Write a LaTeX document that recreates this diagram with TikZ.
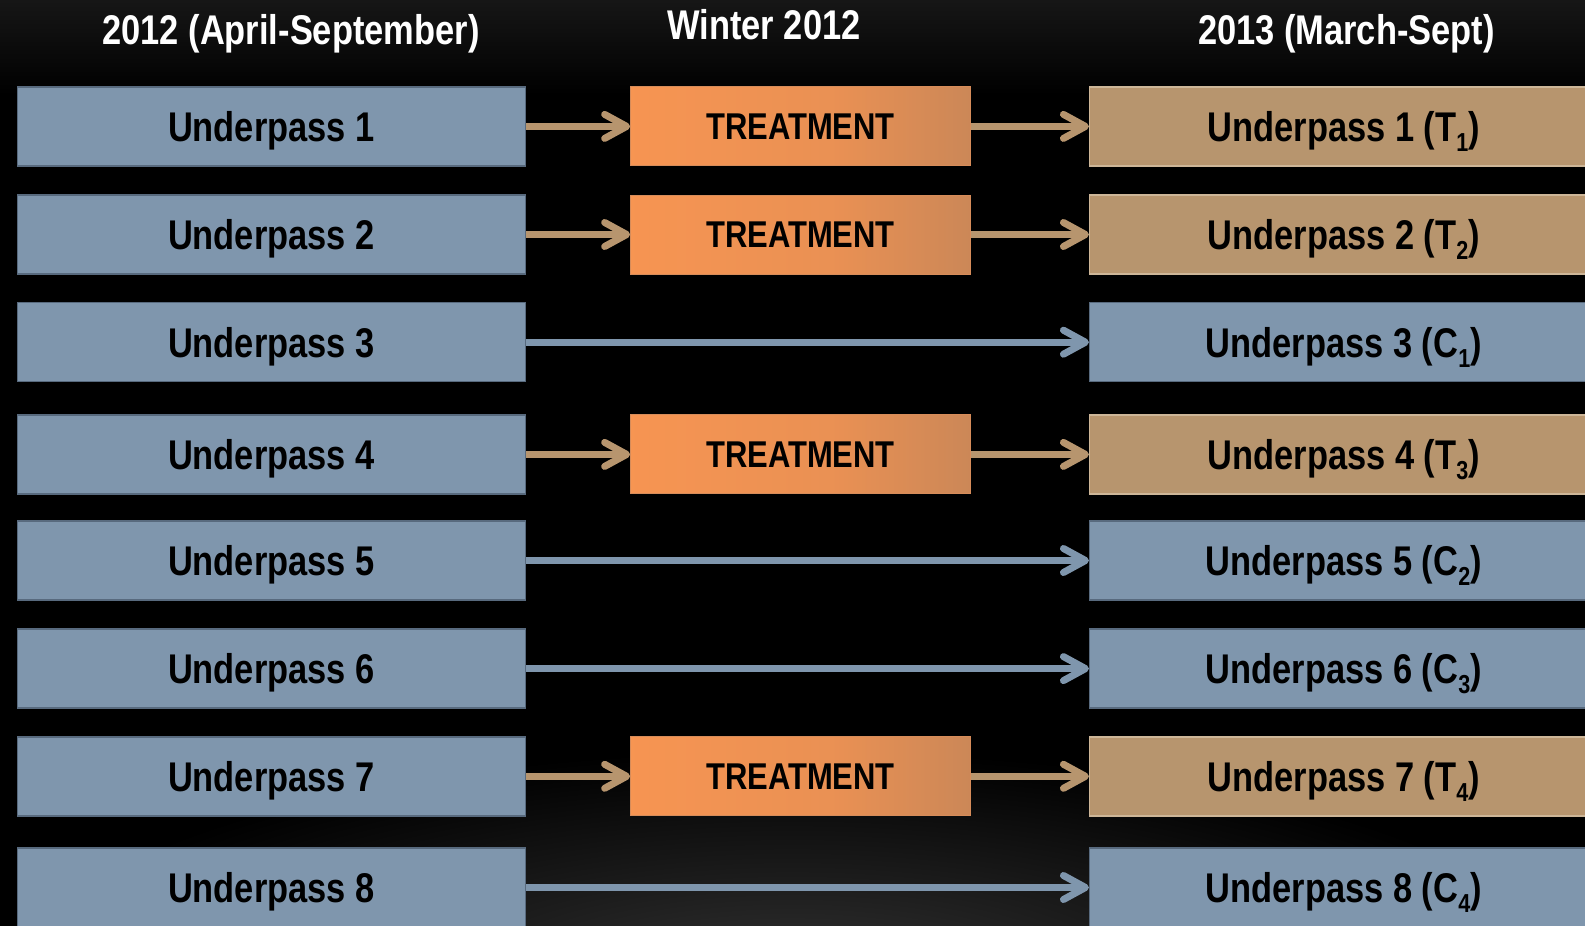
\documentclass[tikz,border=0pt]{standalone}
\usepackage{fontspec}
\newfontfamily\narrowfont{Liberation Sans}[FakeStretch=0.83]
\usetikzlibrary{arrows.meta}
\definecolor{bluefill}{RGB}{127,150,173}
\definecolor{bluebord}{RGB}{88,106,126}
\definecolor{tanfill}{RGB}{183,149,110}
\definecolor{tanbord}{RGB}{205,182,152}
\definecolor{orA}{RGB}{248,149,82}
\definecolor{orB}{RGB}{196,133,88}
\definecolor{orbord}{RGB}{214,140,90}
\definecolor{bgtop}{RGB}{22,22,22}
\definecolor{bgglow}{RGB}{50,50,50}
\pgfdeclarehorizontalshading{treatshade}{100bp}{color(0bp)=(orA); color(22bp)=(orA); color(55bp)=(orA!72!orB); color(80bp)=(orB); color(100bp)=(orB)}
\newcommand{\subnum}[1]{\raisebox{-10pt}{\fontsize{26}{26}\selectfont #1}}
\begin{document}
\begin{tikzpicture}[x=1pt,y=-1pt,
  boxbase/.style={minimum width=508pt, minimum height=79pt, line width=1.5pt, inner sep=0pt,
    font=\narrowfont\bfseries\fontsize{41.5}{48}\selectfont, text height=29.7pt, text depth=0pt, text=black},
  bluebox/.style={boxbase, fill=bluefill, draw=bluebord},
  tanbox/.style={boxbase, fill=tanfill, draw=tanbord},
  treatbox/.style={minimum width=339.7pt, minimum height=79pt, inner sep=0pt, shading=treatshade,
    draw=orbord, line width=1pt, text=black,
    font=\narrowfont\bfseries\fontsize{37.3}{44}\selectfont, text height=26.7pt, text depth=0pt},
  header/.style={text=white, inner sep=0pt, font=\narrowfont\bfseries\fontsize{41.5}{48}\selectfont,
    text height=29.5pt, text depth=0pt},
  tanarrow/.style={draw=tanfill, line width=7pt, -{Straight Barb[length=22pt,width=24pt,round]}},
  bluearrow/.style={draw=bluefill, line width=7pt, -{Straight Barb[length=22pt,width=24pt,round]}}
]
\useasboundingbox (0,0) rectangle (1585,926);
\clip (0,0) rectangle (1585,926);
% background
\fill[black] (0,0) rectangle (1585,926);
\shade[top color=bgtop, bottom color=black] (0,0) rectangle (1585,95);
\shade[inner color=bgglow, outer color=black] (792,980) ellipse [x radius=780, y radius=230];

% headers
\node[header] (h1) at (291,29.5) {2012 (April-September)};
\node[header] (h2) at (764,24.5) {Winter 2012};
\node[header] (h3) at (1346.4,29.5) {2013 (March-Sept)};

% left column
\node[bluebox] (L1) at (271.4,126.4) {Underpass 1};
\node[bluebox] (L2) at (271.4,234.5) {Underpass 2};
\node[bluebox] (L3) at (271.4,342.2) {Underpass 3};
\node[bluebox] (L4) at (271.4,454.4) {Underpass 4};
\node[bluebox] (L5) at (271.4,560.5) {Underpass 5};
\node[bluebox] (L6) at (271.4,668.6) {Underpass 6};
\node[bluebox] (L7) at (271.4,776.3) {Underpass 7};
\node[bluebox] (L8) at (271.4,887.5) {Underpass 8};

% treatments
\node[treatbox] (M1) at (800.5,126.4) {TREATMENT};
\node[treatbox] (M2) at (800.5,234.5) {TREATMENT};
\node[treatbox] (M4) at (800.5,454.4) {TREATMENT};
\node[treatbox] (M7) at (800.5,776.3) {TREATMENT};

% right column
\node[tanbox]  (R1) at (1343.7,126.4) {Underpass 1 (T\subnum{1})};
\node[tanbox]  (R2) at (1343.7,234.5) {Underpass 2 (T\subnum{2})};
\node[bluebox] (R3) at (1343.7,342.2) {Underpass 3 (C\subnum{1})};
\node[tanbox]  (R4) at (1343.7,454.4) {Underpass 4 (T\subnum{3})};
\node[bluebox] (R5) at (1343.7,560.5) {Underpass 5 (C\subnum{2})};
\node[bluebox] (R6) at (1343.7,668.6) {Underpass 6 (C\subnum{3})};
\node[tanbox]  (R7) at (1343.7,776.3) {Underpass 7 (T\subnum{4})};
\node[bluebox] (R8) at (1343.7,887.5) {Underpass 8 (C\subnum{4})};

% connectors
\foreach \i in {1,2,4,7}{
  \draw[tanarrow] (L\i.east) -- (M\i.west);
  \draw[tanarrow] (M\i.east) -- (R\i.west);
}
\foreach \i in {3,5,6,8}{
  \draw[bluearrow] (L\i.east) -- (R\i.west);
}
\end{tikzpicture}
\end{document}
